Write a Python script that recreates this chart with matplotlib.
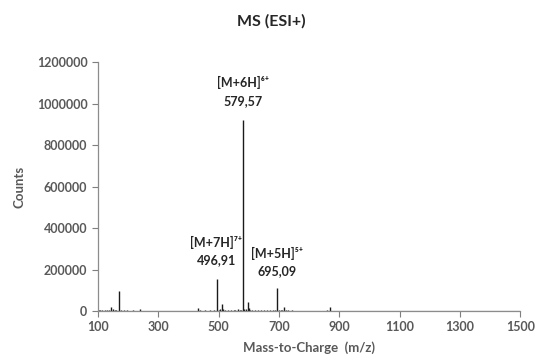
import matplotlib
matplotlib.use("Agg")
import matplotlib.pyplot as plt

# Peak list (m/z, counts)
mz = [102, 108, 115, 122, 130, 138, 143, 149, 155, 160, 171, 176, 185, 195, 205, 215, 225, 238,
      250, 265, 280, 300, 320, 340, 360, 380, 400, 420, 433, 440, 455, 470, 485, 494.9, 500,
      505, 510, 516, 522, 530, 540, 550, 556, 563, 570, 575, 579.57, 585, 590, 596, 600, 605,
      612, 620, 630, 640, 650, 660, 670, 680, 688, 695.09, 700, 706, 711, 716, 722, 730, 745,
      760, 780, 800, 820, 840, 860, 871, 880, 900, 930, 960, 1000, 1040, 1080, 1120, 1160,
      1200, 1250, 1300, 1350, 1400, 1450, 1495]
counts = [5000, 4000, 3000, 4000, 3000, 3500, 18000, 9000, 3000, 2500, 98000, 4000, 3000,
          2500, 2000, 2500, 2000, 10000, 2000, 1500, 2000, 1500, 1500, 1500, 1500, 1500, 2000,
          2000, 13000, 3000, 2500, 2500, 3000, 153000, 6000, 8000, 32000, 12000, 5000, 4000,
          3500, 4000, 6000, 10000, 5000, 6000, 920000, 8000, 12000, 43000, 15000, 6000, 5000,
          4000, 3000, 3000, 2500, 2500, 2500, 3000, 4000, 109000, 5000, 6000, 4000, 18000, 4000,
          3000, 2500, 2000, 2000, 1500, 1500, 2000, 2500, 17000, 2000, 1500, 1500, 1500, 1500,
          1500, 1000, 1000, 1000, 1000, 1000, 1000, 1000, 1000, 1000, 1000]

x_ticks = [100, 300, 500, 700, 900, 1100, 1300, 1500]
y_ticks = [0, 200000, 400000, 600000, 800000, 1000000, 1200000]

labels = [("[M+6H]⁶⁺", "579,57", 579.57, 1103000, 1012000),
          ("[M+7H]⁷⁺", "496,91", 492, 328000, 246000),
          ("[M+5H]⁵⁺", "695,09", 695, 279000, 194000)]

plt.rcParams['font.family'] = ['Lato', 'DejaVu Sans']

fig = plt.figure(figsize=(5.38, 3.61), dpi=100)
ax = fig.add_axes([0.182, 0.1385, 0.785, 0.6895])

ax.vlines(mz, 0, counts, color='#1a1a1a', linewidth=1.0)
ax.plot(mz, [800] * len(mz), color='#1a1a1a', linewidth=0.8)

ax.set_xlim(100, 1500)
ax.set_ylim(0, 1200000)
ax.set_xticks(x_ticks)
ax.set_yticks(y_ticks)
ax.set_xticklabels([str(v) for v in x_ticks])
ax.set_yticklabels([str(v) for v in y_ticks])
ax.tick_params(axis='both', colors='#7f7f7f', labelcolor='#595959', labelsize=9,
               direction='out', length=4, width=0.8)
for lab in ax.get_xticklabels() + ax.get_yticklabels():
    lab.set_fontweight('bold')
for s in ['top', 'right']:
    ax.spines[s].set_visible(False)
for s in ['left', 'bottom']:
    ax.spines[s].set_color('#8c8c8c')
    ax.spines[s].set_linewidth(0.9)

for l1, l2, x, y1, y2 in labels:
    ax.text(x, y1, l1, ha='center', va='center', fontsize=9, fontweight='bold', color='#262626')
    ax.text(x, y2, l2, ha='center', va='center', fontsize=9, fontweight='bold', color='#262626')

ax.set_xlabel('Mass-to-Charge  (m/z)', fontsize=9.5, fontweight='bold', color='#595959', labelpad=6)
ax.set_ylabel('Counts', fontsize=9.5, fontweight='bold', color='#595959', labelpad=8)
fig.text(0.505, 0.94, 'MS (ESI+)', ha='center', va='center', fontsize=11.5, fontweight='bold', color='#262626')

fig.savefig('out.png', dpi=100)
